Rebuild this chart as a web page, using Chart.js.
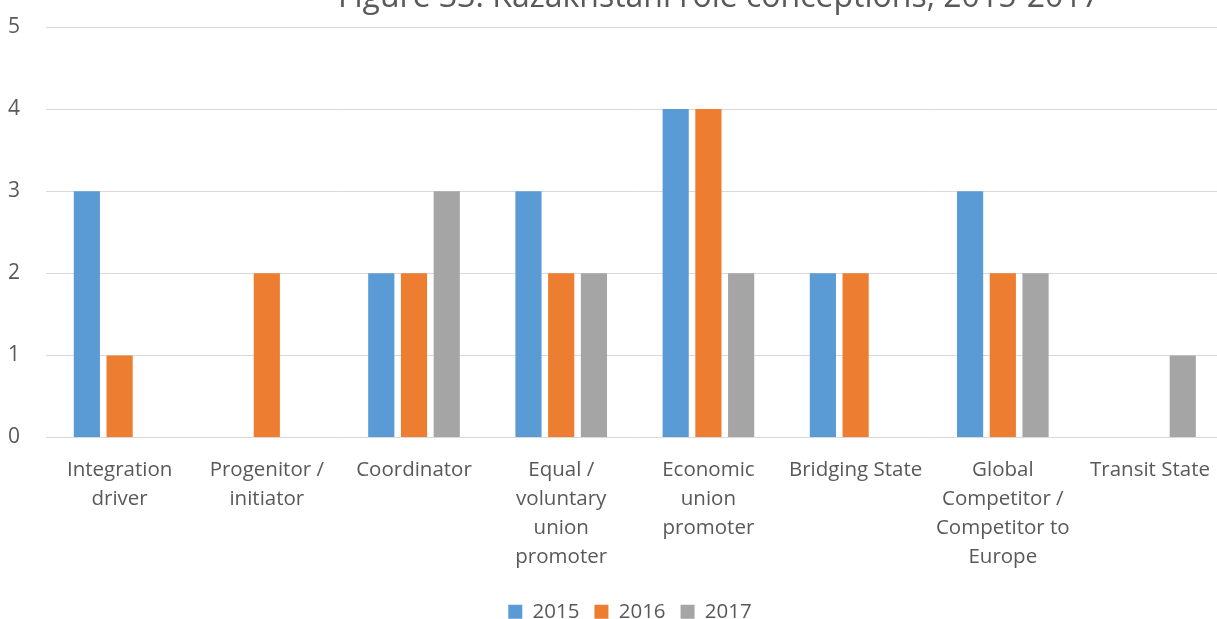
<!DOCTYPE html>
<html>
<head>
<meta charset="utf-8">
<script src="https://cdn.jsdelivr.net/npm/chart.js@4/dist/chart.umd.min.js"></script>
<style>
  body { margin: 0; overflow: hidden; background: #fff; }
  #wrap { position: absolute; left: 0; top: -21px; }
</style>
</head>
<body>
<div id="wrap"><canvas id="chart" width="1228" height="658"></canvas></div>
<script>
// role conceptions per year
const roles = [
    ["Integration", "driver"],
    ["Progenitor /", "initiator"],
    ["Coordinator"],
    ["Equal /", "voluntary", "union", "promoter"],
    ["Economic", "union", "promoter"],
    ["Bridging State"],
    ["Global", "Competitor /", "Competitor to", "Europe"],
    ["Transit State"]
];
const years = ["2015", "2016", "2017"];
const values2015 = [3, 0, 2, 3, 4, 2, 3, 0];
const values2016 = [1, 2, 2, 2, 4, 2, 2, 0];
const values2017 = [0, 0, 3, 2, 2, 0, 2, 1];
const yTicks = [0, 1, 2, 3, 4, 5];
const titleText = "Figure 33: Kazakhstani role conceptions, 2015-2017";

const colors = ["#5b9bd5", "#ed7d31", "#a5a5a5"];
const textColor = "#595959";
const fontFamily = "'Open Sans', sans-serif";

// title sits off-centre and runs past the top edge, drawn by hand
const titlePlugin = {
    id: "offTitle",
    afterLayout(chart) {
        // legend is nudged a little right of centre
        chart.legend.left += 16;
        chart.legend.right += 16;
    },
    afterDraw(chart) {
        const ctx = chart.ctx;
        ctx.save();
        ctx.font = "32px " + fontFamily;
        ctx.fillStyle = textColor;
        ctx.textAlign = "center";
        ctx.textBaseline = "alphabetic";
        ctx.fillText(titleText, 719, 28);
        ctx.restore();
    }
};

const ctx = document.getElementById("chart").getContext("2d");
new Chart(ctx, {
    type: "bar",
    data: {
        labels: roles,
        datasets: [values2015, values2016, values2017].map(function(vals, i) {
            return {
                label: years[i],
                data: vals,
                backgroundColor: colors[i],
                categoryPercentage: 0.667,
                barPercentage: 0.8
            };
        })
    },
    options: {
        responsive: false,
        animation: false,
        layout: { padding: { top: 48, left: 0, right: 0, bottom: 5 } },
        plugins: {
            title: { display: false },
            tooltip: { enabled: false },
            legend: {
                position: "bottom",
                labels: {
                    boxWidth: 14,
                    boxHeight: 14,
                    padding: 15,
                    color: textColor,
                    font: { family: fontFamily, size: 20.5 }
                }
            }
        },
        scales: {
            x: {
                grid: { display: false, drawTicks: false },
                border: { display: false },
                afterFit: function(scale) { scale.height -= 3; },
                ticks: {
                    color: textColor,
                    padding: 18,
                    maxRotation: 0,
                    autoSkip: false,
                    font: { family: fontFamily, size: 20.5, lineHeight: 1.415 }
                }
            },
            y: {
                min: 0,
                max: 5,
                grid: { color: "#d9d9d9", drawTicks: false },
                border: { display: false },
                afterFit: function(scale) { scale.width = 46; },
                afterBuildTicks: function(scale) {
                    scale.ticks = yTicks.map(function(v) { return { value: v }; });
                },
                ticks: {
                    color: textColor,
                    padding: 26,
                    font: { family: fontFamily, size: 21 }
                }
            }
        }
    },
    plugins: [titlePlugin]
});
</script>
</body>
</html>
